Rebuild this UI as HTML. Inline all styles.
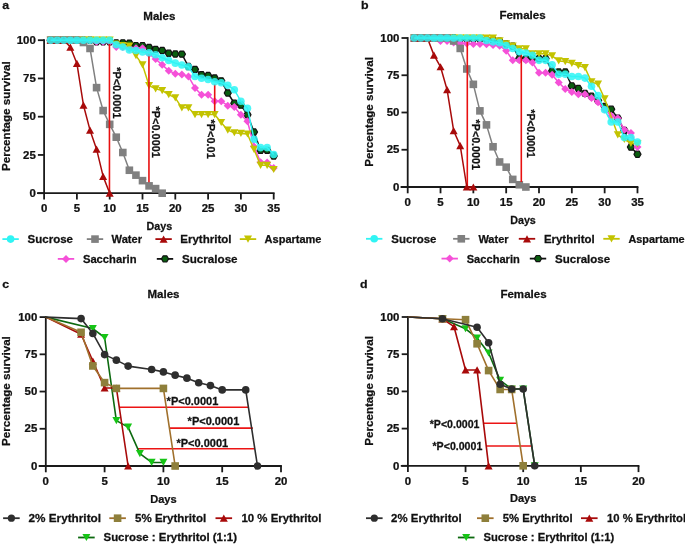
<!DOCTYPE html><html><head><meta charset="utf-8"><style>html,body{margin:0;padding:0;background:#fff;}svg{display:block;will-change:transform;}text{font-family:"Liberation Sans", sans-serif;stroke:#111;stroke-width:0.25px;}</style></head><body>
<svg width="685" height="544" viewBox="0 0 685 544">
<rect width="685" height="544" fill="#fff"/>
<g>
<text transform="translate(2.2,8.7) scale(1.05,1)" font-size="11.8" text-anchor="start" font-weight="bold" fill="#111">a</text>
<text transform="translate(159.3,19.8) scale(1.05,1)" font-size="11" text-anchor="middle" font-weight="bold" fill="#111">Males</text>
<text transform="translate(9.6,116.2) rotate(-90) scale(1.02,1)" font-size="11.4" text-anchor="middle" font-weight="bold" fill="#111">Percentage survival</text>
<line x1="44.1" y1="40.2" x2="44.1" y2="193.2" stroke="#1a1a1a" stroke-width="1.8" stroke-linecap="square"/>
<line x1="37.9" y1="193.2" x2="273.7" y2="193.2" stroke="#1a1a1a" stroke-width="1.8" stroke-linecap="square"/>
<line x1="37.9" y1="193.2" x2="44.1" y2="193.2" stroke="#1a1a1a" stroke-width="1.8"/>
<text transform="translate(35.8,196.9) scale(1.11,1)" font-size="10.3" text-anchor="end" font-weight="bold" fill="#111">0</text>
<line x1="37.9" y1="154.95" x2="44.1" y2="154.95" stroke="#1a1a1a" stroke-width="1.8"/>
<text transform="translate(35.8,158.65) scale(1.11,1)" font-size="10.3" text-anchor="end" font-weight="bold" fill="#111">25</text>
<line x1="37.9" y1="116.7" x2="44.1" y2="116.7" stroke="#1a1a1a" stroke-width="1.8"/>
<text transform="translate(35.8,120.4) scale(1.11,1)" font-size="10.3" text-anchor="end" font-weight="bold" fill="#111">50</text>
<line x1="37.9" y1="78.45" x2="44.1" y2="78.45" stroke="#1a1a1a" stroke-width="1.8"/>
<text transform="translate(35.8,82.15) scale(1.11,1)" font-size="10.3" text-anchor="end" font-weight="bold" fill="#111">75</text>
<line x1="37.9" y1="40.2" x2="44.1" y2="40.2" stroke="#1a1a1a" stroke-width="1.8"/>
<text transform="translate(35.8,43.9) scale(1.11,1)" font-size="10.3" text-anchor="end" font-weight="bold" fill="#111">100</text>
<line x1="44.1" y1="193.2" x2="44.1" y2="199.5" stroke="#1a1a1a" stroke-width="1.8"/>
<text transform="translate(44.1,212.2) scale(1.11,1)" font-size="10.3" text-anchor="middle" font-weight="bold" fill="#111">0</text>
<line x1="76.9" y1="193.2" x2="76.9" y2="199.5" stroke="#1a1a1a" stroke-width="1.8"/>
<text transform="translate(76.9,212.2) scale(1.11,1)" font-size="10.3" text-anchor="middle" font-weight="bold" fill="#111">5</text>
<line x1="109.7" y1="193.2" x2="109.7" y2="199.5" stroke="#1a1a1a" stroke-width="1.8"/>
<text transform="translate(109.7,212.2) scale(1.11,1)" font-size="10.3" text-anchor="middle" font-weight="bold" fill="#111">10</text>
<line x1="142.5" y1="193.2" x2="142.5" y2="199.5" stroke="#1a1a1a" stroke-width="1.8"/>
<text transform="translate(142.5,212.2) scale(1.11,1)" font-size="10.3" text-anchor="middle" font-weight="bold" fill="#111">15</text>
<line x1="175.3" y1="193.2" x2="175.3" y2="199.5" stroke="#1a1a1a" stroke-width="1.8"/>
<text transform="translate(175.3,212.2) scale(1.11,1)" font-size="10.3" text-anchor="middle" font-weight="bold" fill="#111">20</text>
<line x1="208.1" y1="193.2" x2="208.1" y2="199.5" stroke="#1a1a1a" stroke-width="1.8"/>
<text transform="translate(208.1,212.2) scale(1.11,1)" font-size="10.3" text-anchor="middle" font-weight="bold" fill="#111">25</text>
<line x1="240.9" y1="193.2" x2="240.9" y2="199.5" stroke="#1a1a1a" stroke-width="1.8"/>
<text transform="translate(240.9,212.2) scale(1.11,1)" font-size="10.3" text-anchor="middle" font-weight="bold" fill="#111">30</text>
<line x1="273.7" y1="193.2" x2="273.7" y2="199.5" stroke="#1a1a1a" stroke-width="1.8"/>
<text transform="translate(273.7,212.2) scale(1.11,1)" font-size="10.3" text-anchor="middle" font-weight="bold" fill="#111">35</text>
<text transform="translate(159.3,230.2) scale(0.96,1)" font-size="11.2" text-anchor="middle" font-weight="bold" fill="#111">Days</text>
<path d="M50.66,40.2 L57.22,40.2 L63.78,40.2 L70.34,40.2 L76.9,40.2 L83.46,40.2 L90.02,40.2 L96.58,41.73 L103.14,41.73 L109.7,41.73 L116.26,42.8 L122.82,42.8 L129.38,43.11 L135.94,45.55 L142.5,45.55 L149.06,47.39 L155.62,49.38 L162.18,50.45 L168.74,53.2 L175.3,53.97 L181.86,54.12 L188.42,66.52 L194.98,69.42 L201.54,74.62 L208.1,75.54 L214.66,77.99 L221.22,80.9 L227.78,92.98 L234.34,103.24 L240.9,105.07 L247.46,114.71 L254.02,132 L260.58,150.36 L267.14,150.36 L273.7,156.02" fill="none" stroke="#111111" stroke-width="1.5" stroke-linejoin="round"/><polygon points="47.11,40.2 48.89,37.13 52.44,37.13 54.21,40.2 52.44,43.27 48.89,43.27" fill="#0a5e10" stroke="#111111" stroke-width="1.2" stroke-linejoin="round"/><polygon points="53.67,40.2 55.45,37.13 58.99,37.13 60.77,40.2 58.99,43.27 55.45,43.27" fill="#0a5e10" stroke="#111111" stroke-width="1.2" stroke-linejoin="round"/><polygon points="60.23,40.2 62.01,37.13 65.56,37.13 67.33,40.2 65.56,43.27 62.01,43.27" fill="#0a5e10" stroke="#111111" stroke-width="1.2" stroke-linejoin="round"/><polygon points="66.79,40.2 68.56,37.13 72.12,37.13 73.89,40.2 72.12,43.27 68.56,43.27" fill="#0a5e10" stroke="#111111" stroke-width="1.2" stroke-linejoin="round"/><polygon points="73.35,40.2 75.12,37.13 78.68,37.13 80.45,40.2 78.68,43.27 75.12,43.27" fill="#0a5e10" stroke="#111111" stroke-width="1.2" stroke-linejoin="round"/><polygon points="79.91,40.2 81.69,37.13 85.24,37.13 87.01,40.2 85.24,43.27 81.69,43.27" fill="#0a5e10" stroke="#111111" stroke-width="1.2" stroke-linejoin="round"/><polygon points="86.47,40.2 88.24,37.13 91.8,37.13 93.57,40.2 91.8,43.27 88.24,43.27" fill="#0a5e10" stroke="#111111" stroke-width="1.2" stroke-linejoin="round"/><polygon points="93.03,41.73 94.8,38.66 98.36,38.66 100.13,41.73 98.36,44.8 94.8,44.8" fill="#0a5e10" stroke="#111111" stroke-width="1.2" stroke-linejoin="round"/><polygon points="99.59,41.73 101.36,38.66 104.92,38.66 106.69,41.73 104.92,44.8 101.36,44.8" fill="#0a5e10" stroke="#111111" stroke-width="1.2" stroke-linejoin="round"/><polygon points="106.15,41.73 107.92,38.66 111.47,38.66 113.25,41.73 111.47,44.8 107.92,44.8" fill="#0a5e10" stroke="#111111" stroke-width="1.2" stroke-linejoin="round"/><polygon points="112.71,42.8 114.48,39.73 118.03,39.73 119.81,42.8 118.03,45.88 114.48,45.88" fill="#0a5e10" stroke="#111111" stroke-width="1.2" stroke-linejoin="round"/><polygon points="119.27,42.8 121.04,39.73 124.59,39.73 126.37,42.8 124.59,45.88 121.04,45.88" fill="#0a5e10" stroke="#111111" stroke-width="1.2" stroke-linejoin="round"/><polygon points="125.83,43.11 127.6,40.03 131.16,40.03 132.93,43.11 131.16,46.18 127.6,46.18" fill="#0a5e10" stroke="#111111" stroke-width="1.2" stroke-linejoin="round"/><polygon points="132.39,45.55 134.16,42.48 137.72,42.48 139.49,45.55 137.72,48.63 134.16,48.63" fill="#0a5e10" stroke="#111111" stroke-width="1.2" stroke-linejoin="round"/><polygon points="138.95,45.55 140.72,42.48 144.28,42.48 146.05,45.55 144.28,48.63 140.72,48.63" fill="#0a5e10" stroke="#111111" stroke-width="1.2" stroke-linejoin="round"/><polygon points="145.51,47.39 147.28,44.32 150.84,44.32 152.61,47.39 150.84,50.47 147.28,50.47" fill="#0a5e10" stroke="#111111" stroke-width="1.2" stroke-linejoin="round"/><polygon points="152.07,49.38 153.84,46.31 157.4,46.31 159.17,49.38 157.4,52.45 153.84,52.45" fill="#0a5e10" stroke="#111111" stroke-width="1.2" stroke-linejoin="round"/><polygon points="158.63,50.45 160.41,47.38 163.96,47.38 165.73,50.45 163.96,53.53 160.41,53.53" fill="#0a5e10" stroke="#111111" stroke-width="1.2" stroke-linejoin="round"/><polygon points="165.19,53.2 166.96,50.13 170.51,50.13 172.29,53.2 170.51,56.28 166.96,56.28" fill="#0a5e10" stroke="#111111" stroke-width="1.2" stroke-linejoin="round"/><polygon points="171.75,53.97 173.52,50.9 177.07,50.9 178.85,53.97 177.07,57.04 173.52,57.04" fill="#0a5e10" stroke="#111111" stroke-width="1.2" stroke-linejoin="round"/><polygon points="178.31,54.12 180.08,51.05 183.63,51.05 185.41,54.12 183.63,57.2 180.08,57.2" fill="#0a5e10" stroke="#111111" stroke-width="1.2" stroke-linejoin="round"/><polygon points="184.87,66.52 186.64,63.44 190.19,63.44 191.97,66.52 190.19,69.59 186.64,69.59" fill="#0a5e10" stroke="#111111" stroke-width="1.2" stroke-linejoin="round"/><polygon points="191.43,69.42 193.2,66.35 196.75,66.35 198.53,69.42 196.75,72.5 193.2,72.5" fill="#0a5e10" stroke="#111111" stroke-width="1.2" stroke-linejoin="round"/><polygon points="197.99,74.62 199.76,71.55 203.31,71.55 205.09,74.62 203.31,77.7 199.76,77.7" fill="#0a5e10" stroke="#111111" stroke-width="1.2" stroke-linejoin="round"/><polygon points="204.55,75.54 206.32,72.47 209.88,72.47 211.65,75.54 209.88,78.62 206.32,78.62" fill="#0a5e10" stroke="#111111" stroke-width="1.2" stroke-linejoin="round"/><polygon points="211.11,77.99 212.88,74.92 216.44,74.92 218.21,77.99 216.44,81.07 212.88,81.07" fill="#0a5e10" stroke="#111111" stroke-width="1.2" stroke-linejoin="round"/><polygon points="217.67,80.9 219.44,77.82 222.99,77.82 224.77,80.9 222.99,83.97 219.44,83.97" fill="#0a5e10" stroke="#111111" stroke-width="1.2" stroke-linejoin="round"/><polygon points="224.23,92.98 226,89.91 229.55,89.91 231.33,92.98 229.55,96.06 226,96.06" fill="#0a5e10" stroke="#111111" stroke-width="1.2" stroke-linejoin="round"/><polygon points="230.79,103.24 232.56,100.16 236.11,100.16 237.89,103.24 236.11,106.31 232.56,106.31" fill="#0a5e10" stroke="#111111" stroke-width="1.2" stroke-linejoin="round"/><polygon points="237.35,105.07 239.12,102 242.67,102 244.45,105.07 242.67,108.15 239.12,108.15" fill="#0a5e10" stroke="#111111" stroke-width="1.2" stroke-linejoin="round"/><polygon points="243.91,114.71 245.68,111.64 249.23,111.64 251.01,114.71 249.23,117.79 245.68,117.79" fill="#0a5e10" stroke="#111111" stroke-width="1.2" stroke-linejoin="round"/><polygon points="250.47,132 252.24,128.93 255.79,128.93 257.57,132 255.79,135.07 252.24,135.07" fill="#0a5e10" stroke="#111111" stroke-width="1.2" stroke-linejoin="round"/><polygon points="257.03,150.36 258.81,147.29 262.35,147.29 264.13,150.36 262.35,153.43 258.81,153.43" fill="#0a5e10" stroke="#111111" stroke-width="1.2" stroke-linejoin="round"/><polygon points="263.59,150.36 265.37,147.29 268.91,147.29 270.69,150.36 268.91,153.43 265.37,153.43" fill="#0a5e10" stroke="#111111" stroke-width="1.2" stroke-linejoin="round"/><polygon points="270.15,156.02 271.93,152.95 275.47,152.95 277.25,156.02 275.47,159.1 271.93,159.1" fill="#0a5e10" stroke="#111111" stroke-width="1.2" stroke-linejoin="round"/>
<path d="M50.66,40.2 L57.22,40.2 L63.78,40.2 L70.34,40.2 L76.9,40.2 L83.46,40.2 L90.02,40.2 L96.58,41.73 L103.14,41.73 L109.7,41.73 L116.26,47.08 L122.82,47.08 L129.38,48.61 L135.94,48.16 L142.5,48.16 L149.06,53.97 L155.62,59.02 L162.18,64.83 L168.74,70.65 L175.3,73.86 L181.86,74.62 L188.42,76.46 L194.98,87.94 L201.54,94.67 L208.1,94.67 L214.66,101.25 L221.22,101.25 L227.78,105.68 L234.34,107.06 L240.9,114.71 L247.46,121.29 L254.02,146.38 L260.58,162.29 L267.14,162.6 L273.7,167.95" fill="none" stroke="#f550d8" stroke-width="1.5" stroke-linejoin="round"/><polygon points="50.66,36.2 54.66,40.2 50.66,44.2 46.66,40.2" fill="#f550d8"/><polygon points="57.22,36.2 61.22,40.2 57.22,44.2 53.22,40.2" fill="#f550d8"/><polygon points="63.78,36.2 67.78,40.2 63.78,44.2 59.78,40.2" fill="#f550d8"/><polygon points="70.34,36.2 74.34,40.2 70.34,44.2 66.34,40.2" fill="#f550d8"/><polygon points="76.9,36.2 80.9,40.2 76.9,44.2 72.9,40.2" fill="#f550d8"/><polygon points="83.46,36.2 87.46,40.2 83.46,44.2 79.46,40.2" fill="#f550d8"/><polygon points="90.02,36.2 94.02,40.2 90.02,44.2 86.02,40.2" fill="#f550d8"/><polygon points="96.58,37.73 100.58,41.73 96.58,45.73 92.58,41.73" fill="#f550d8"/><polygon points="103.14,37.73 107.14,41.73 103.14,45.73 99.14,41.73" fill="#f550d8"/><polygon points="109.7,37.73 113.7,41.73 109.7,45.73 105.7,41.73" fill="#f550d8"/><polygon points="116.26,43.08 120.26,47.08 116.26,51.08 112.26,47.08" fill="#f550d8"/><polygon points="122.82,43.08 126.82,47.08 122.82,51.08 118.82,47.08" fill="#f550d8"/><polygon points="129.38,44.61 133.38,48.61 129.38,52.61 125.38,48.61" fill="#f550d8"/><polygon points="135.94,44.16 139.94,48.16 135.94,52.16 131.94,48.16" fill="#f550d8"/><polygon points="142.5,44.16 146.5,48.16 142.5,52.16 138.5,48.16" fill="#f550d8"/><polygon points="149.06,49.97 153.06,53.97 149.06,57.97 145.06,53.97" fill="#f550d8"/><polygon points="155.62,55.02 159.62,59.02 155.62,63.02 151.62,59.02" fill="#f550d8"/><polygon points="162.18,60.83 166.18,64.83 162.18,68.83 158.18,64.83" fill="#f550d8"/><polygon points="168.74,66.65 172.74,70.65 168.74,74.65 164.74,70.65" fill="#f550d8"/><polygon points="175.3,69.86 179.3,73.86 175.3,77.86 171.3,73.86" fill="#f550d8"/><polygon points="181.86,70.62 185.86,74.62 181.86,78.62 177.86,74.62" fill="#f550d8"/><polygon points="188.42,72.46 192.42,76.46 188.42,80.46 184.42,76.46" fill="#f550d8"/><polygon points="194.98,83.94 198.98,87.94 194.98,91.94 190.98,87.94" fill="#f550d8"/><polygon points="201.54,90.67 205.54,94.67 201.54,98.67 197.54,94.67" fill="#f550d8"/><polygon points="208.1,90.67 212.1,94.67 208.1,98.67 204.1,94.67" fill="#f550d8"/><polygon points="214.66,97.25 218.66,101.25 214.66,105.25 210.66,101.25" fill="#f550d8"/><polygon points="221.22,97.25 225.22,101.25 221.22,105.25 217.22,101.25" fill="#f550d8"/><polygon points="227.78,101.68 231.78,105.68 227.78,109.68 223.78,105.68" fill="#f550d8"/><polygon points="234.34,103.06 238.34,107.06 234.34,111.06 230.34,107.06" fill="#f550d8"/><polygon points="240.9,110.71 244.9,114.71 240.9,118.71 236.9,114.71" fill="#f550d8"/><polygon points="247.46,117.29 251.46,121.29 247.46,125.29 243.46,121.29" fill="#f550d8"/><polygon points="254.02,142.38 258.02,146.38 254.02,150.38 250.02,146.38" fill="#f550d8"/><polygon points="260.58,158.29 264.58,162.29 260.58,166.29 256.58,162.29" fill="#f550d8"/><polygon points="267.14,158.6 271.14,162.6 267.14,166.6 263.14,162.6" fill="#f550d8"/><polygon points="273.7,163.95 277.7,167.95 273.7,171.95 269.7,167.95" fill="#f550d8"/>
<path d="M50.66,40.2 L57.22,40.2 L63.78,40.2 L70.34,40.2 L76.9,40.2 L83.46,40.2 L90.02,40.2 L96.58,40.2 L103.14,40.2 L109.7,40.2 L116.26,44.02 L122.82,45.55 L129.38,46.01 L135.94,55.65 L142.5,64.83 L149.06,85.64 L155.62,88.85 L162.18,90.54 L168.74,94.67 L175.3,97.88 L181.86,107.83 L188.42,107.83 L194.98,114.56 L201.54,114.56 L208.1,114.56 L214.66,114.56 L221.22,122.51 L227.78,130.16 L234.34,132.76 L240.9,133.38 L247.46,133.99 L254.02,149.44 L260.58,165.35 L267.14,165.35 L273.7,169.48" fill="none" stroke="#c3c300" stroke-width="1.5" stroke-linejoin="round"/><polygon points="46.66,36.6 54.66,36.6 50.66,43.8" fill="#c3c300"/><polygon points="53.22,36.6 61.22,36.6 57.22,43.8" fill="#c3c300"/><polygon points="59.78,36.6 67.78,36.6 63.78,43.8" fill="#c3c300"/><polygon points="66.34,36.6 74.34,36.6 70.34,43.8" fill="#c3c300"/><polygon points="72.9,36.6 80.9,36.6 76.9,43.8" fill="#c3c300"/><polygon points="79.46,36.6 87.46,36.6 83.46,43.8" fill="#c3c300"/><polygon points="86.02,36.6 94.02,36.6 90.02,43.8" fill="#c3c300"/><polygon points="92.58,36.6 100.58,36.6 96.58,43.8" fill="#c3c300"/><polygon points="99.14,36.6 107.14,36.6 103.14,43.8" fill="#c3c300"/><polygon points="105.7,36.6 113.7,36.6 109.7,43.8" fill="#c3c300"/><polygon points="112.26,40.42 120.26,40.42 116.26,47.62" fill="#c3c300"/><polygon points="118.82,41.95 126.82,41.95 122.82,49.15" fill="#c3c300"/><polygon points="125.38,42.41 133.38,42.41 129.38,49.61" fill="#c3c300"/><polygon points="131.94,52.05 139.94,52.05 135.94,59.25" fill="#c3c300"/><polygon points="138.5,61.23 146.5,61.23 142.5,68.43" fill="#c3c300"/><polygon points="145.06,82.04 153.06,82.04 149.06,89.24" fill="#c3c300"/><polygon points="151.62,85.25 159.62,85.25 155.62,92.45" fill="#c3c300"/><polygon points="158.18,86.94 166.18,86.94 162.18,94.14" fill="#c3c300"/><polygon points="164.74,91.07 172.74,91.07 168.74,98.27" fill="#c3c300"/><polygon points="171.3,94.28 179.3,94.28 175.3,101.48" fill="#c3c300"/><polygon points="177.86,104.23 185.86,104.23 181.86,111.43" fill="#c3c300"/><polygon points="184.42,104.23 192.42,104.23 188.42,111.43" fill="#c3c300"/><polygon points="190.98,110.96 198.98,110.96 194.98,118.16" fill="#c3c300"/><polygon points="197.54,110.96 205.54,110.96 201.54,118.16" fill="#c3c300"/><polygon points="204.1,110.96 212.1,110.96 208.1,118.16" fill="#c3c300"/><polygon points="210.66,110.96 218.66,110.96 214.66,118.16" fill="#c3c300"/><polygon points="217.22,118.91 225.22,118.91 221.22,126.11" fill="#c3c300"/><polygon points="223.78,126.56 231.78,126.56 227.78,133.76" fill="#c3c300"/><polygon points="230.34,129.16 238.34,129.16 234.34,136.36" fill="#c3c300"/><polygon points="236.9,129.78 244.9,129.78 240.9,136.98" fill="#c3c300"/><polygon points="243.46,130.39 251.46,130.39 247.46,137.59" fill="#c3c300"/><polygon points="250.02,145.84 258.02,145.84 254.02,153.04" fill="#c3c300"/><polygon points="256.58,161.75 264.58,161.75 260.58,168.95" fill="#c3c300"/><polygon points="263.14,161.75 271.14,161.75 267.14,168.95" fill="#c3c300"/><polygon points="269.7,165.88 277.7,165.88 273.7,173.08" fill="#c3c300"/>
<path d="M50.66,40.2 L57.22,40.2 L63.78,40.2 L70.34,40.2 L76.9,40.2 L83.46,42.49 L90.02,48.46 L96.58,87.63 L103.14,110.58 L109.7,124.35 L116.26,137.2 L122.82,152.5 L129.38,170.25 L135.94,175.15 L142.5,180.65 L149.06,185.86 L155.62,188.61 L162.18,193.2" fill="none" stroke="#808080" stroke-width="1.5" stroke-linejoin="round"/><rect x="46.86" y="36.4" width="7.6" height="7.6" fill="#808080"/><rect x="53.42" y="36.4" width="7.6" height="7.6" fill="#808080"/><rect x="59.98" y="36.4" width="7.6" height="7.6" fill="#808080"/><rect x="66.54" y="36.4" width="7.6" height="7.6" fill="#808080"/><rect x="73.1" y="36.4" width="7.6" height="7.6" fill="#808080"/><rect x="79.66" y="38.69" width="7.6" height="7.6" fill="#808080"/><rect x="86.22" y="44.66" width="7.6" height="7.6" fill="#808080"/><rect x="92.78" y="83.83" width="7.6" height="7.6" fill="#808080"/><rect x="99.34" y="106.78" width="7.6" height="7.6" fill="#808080"/><rect x="105.9" y="120.55" width="7.6" height="7.6" fill="#808080"/><rect x="112.46" y="133.4" width="7.6" height="7.6" fill="#808080"/><rect x="119.02" y="148.7" width="7.6" height="7.6" fill="#808080"/><rect x="125.58" y="166.45" width="7.6" height="7.6" fill="#808080"/><rect x="132.14" y="171.35" width="7.6" height="7.6" fill="#808080"/><rect x="138.7" y="176.85" width="7.6" height="7.6" fill="#808080"/><rect x="145.26" y="182.06" width="7.6" height="7.6" fill="#808080"/><rect x="151.82" y="184.81" width="7.6" height="7.6" fill="#808080"/><rect x="158.38" y="189.4" width="7.6" height="7.6" fill="#808080"/>
<line x1="109.45" y1="42" x2="109.45" y2="191" stroke="#e81010" stroke-width="1.6"/>
<line x1="148.95" y1="54" x2="148.95" y2="182.2" stroke="#e81010" stroke-width="1.6"/>
<line x1="214.7" y1="84" x2="214.7" y2="111.2" stroke="#e81010" stroke-width="1.6"/>
<path d="M50.66,40.2 L57.22,40.2 L63.78,40.2 L70.34,47.08 L76.9,63.46 L83.46,105.22 L90.02,130.16 L96.58,149.14 L103.14,176.37 L109.7,193.2" fill="none" stroke="#a80a0a" stroke-width="1.5" stroke-linejoin="round"/><polygon points="50.66,36.6 54.66,43.8 46.66,43.8" fill="#a80a0a"/><polygon points="57.22,36.6 61.22,43.8 53.22,43.8" fill="#a80a0a"/><polygon points="63.78,36.6 67.78,43.8 59.78,43.8" fill="#a80a0a"/><polygon points="70.34,43.48 74.34,50.68 66.34,50.68" fill="#a80a0a"/><polygon points="76.9,59.86 80.9,67.06 72.9,67.06" fill="#a80a0a"/><polygon points="83.46,101.62 87.46,108.82 79.46,108.82" fill="#a80a0a"/><polygon points="90.02,126.56 94.02,133.76 86.02,133.76" fill="#a80a0a"/><polygon points="96.58,145.54 100.58,152.74 92.58,152.74" fill="#a80a0a"/><polygon points="103.14,172.77 107.14,179.97 99.14,179.97" fill="#a80a0a"/><polygon points="109.7,189.6 113.7,196.8 105.7,196.8" fill="#a80a0a"/>
<path d="M50.66,40.2 L57.22,40.2 L63.78,40.2 L70.34,40.2 L76.9,40.2 L83.46,40.2 L90.02,40.2 L96.58,40.2 L103.14,40.2 L109.7,40.2 L116.26,44.79 L122.82,46.93 L129.38,49.99 L135.94,50.45 L142.5,51.98 L149.06,52.75 L155.62,54.73 L162.18,57.79 L168.74,60.55 L175.3,63.15 L181.86,64.99 L188.42,66.82 L194.98,76.46 L201.54,78.3 L208.1,79.52 L214.66,81.82 L221.22,82.73 L227.78,85.18 L234.34,89.77 L240.9,101.25 L247.46,108.28 L254.02,139.19 L260.58,147.61 L267.14,147.61 L273.7,154.49" fill="none" stroke="#30f4f4" stroke-width="1.5" stroke-linejoin="round"/><circle cx="50.66" cy="40.2" r="3.8" fill="#30f4f4" fill-opacity="0.86"/><circle cx="57.22" cy="40.2" r="3.8" fill="#30f4f4" fill-opacity="0.86"/><circle cx="63.78" cy="40.2" r="3.8" fill="#30f4f4" fill-opacity="0.86"/><circle cx="70.34" cy="40.2" r="3.8" fill="#30f4f4" fill-opacity="0.86"/><circle cx="76.9" cy="40.2" r="3.8" fill="#30f4f4" fill-opacity="0.86"/><circle cx="83.46" cy="40.2" r="3.8" fill="#30f4f4" fill-opacity="0.86"/><circle cx="90.02" cy="40.2" r="3.8" fill="#30f4f4" fill-opacity="0.86"/><circle cx="96.58" cy="40.2" r="3.8" fill="#30f4f4" fill-opacity="0.86"/><circle cx="103.14" cy="40.2" r="3.8" fill="#30f4f4" fill-opacity="0.86"/><circle cx="109.7" cy="40.2" r="3.8" fill="#30f4f4" fill-opacity="0.86"/><circle cx="116.26" cy="44.79" r="3.8" fill="#30f4f4" fill-opacity="0.86"/><circle cx="122.82" cy="46.93" r="3.8" fill="#30f4f4" fill-opacity="0.86"/><circle cx="129.38" cy="49.99" r="3.8" fill="#30f4f4" fill-opacity="0.86"/><circle cx="135.94" cy="50.45" r="3.8" fill="#30f4f4" fill-opacity="0.86"/><circle cx="142.5" cy="51.98" r="3.8" fill="#30f4f4" fill-opacity="0.86"/><circle cx="149.06" cy="52.75" r="3.8" fill="#30f4f4" fill-opacity="0.86"/><circle cx="155.62" cy="54.73" r="3.8" fill="#30f4f4" fill-opacity="0.86"/><circle cx="162.18" cy="57.79" r="3.8" fill="#30f4f4" fill-opacity="0.86"/><circle cx="168.74" cy="60.55" r="3.8" fill="#30f4f4" fill-opacity="0.86"/><circle cx="175.3" cy="63.15" r="3.8" fill="#30f4f4" fill-opacity="0.86"/><circle cx="181.86" cy="64.99" r="3.8" fill="#30f4f4" fill-opacity="0.86"/><circle cx="188.42" cy="66.82" r="3.8" fill="#30f4f4" fill-opacity="0.86"/><circle cx="194.98" cy="76.46" r="3.8" fill="#30f4f4" fill-opacity="0.86"/><circle cx="201.54" cy="78.3" r="3.8" fill="#30f4f4" fill-opacity="0.86"/><circle cx="208.1" cy="79.52" r="3.8" fill="#30f4f4" fill-opacity="0.86"/><circle cx="214.66" cy="81.82" r="3.8" fill="#30f4f4" fill-opacity="0.86"/><circle cx="221.22" cy="82.73" r="3.8" fill="#30f4f4" fill-opacity="0.86"/><circle cx="227.78" cy="85.18" r="3.8" fill="#30f4f4" fill-opacity="0.86"/><circle cx="234.34" cy="89.77" r="3.8" fill="#30f4f4" fill-opacity="0.86"/><circle cx="240.9" cy="101.25" r="3.8" fill="#30f4f4" fill-opacity="0.86"/><circle cx="247.46" cy="108.28" r="3.8" fill="#30f4f4" fill-opacity="0.86"/><circle cx="254.02" cy="139.19" r="3.8" fill="#30f4f4" fill-opacity="0.86"/><circle cx="260.58" cy="147.61" r="3.8" fill="#30f4f4" fill-opacity="0.86"/><circle cx="267.14" cy="147.61" r="3.8" fill="#30f4f4" fill-opacity="0.86"/><circle cx="273.7" cy="154.49" r="3.8" fill="#30f4f4" fill-opacity="0.86"/>
<text transform="translate(112.6,67.2) rotate(90) scale(1.04,1)" font-size="10.5" text-anchor="start" font-weight="bold" fill="#111">*P&lt;0.0001</text>
<text transform="translate(151.7,106.6) rotate(90) scale(1.04,1)" font-size="10.5" text-anchor="start" font-weight="bold" fill="#111">*P&lt;0.0001</text>
<text transform="translate(207.4,119.6) rotate(90) scale(1.04,1)" font-size="10.5" text-anchor="start" font-weight="bold" fill="#111">*P&lt;0.01</text>
<line x1="2.4" y1="239.1" x2="18.8" y2="239.1" stroke="#30f4f4" stroke-width="1.8"/>
<circle cx="10.6" cy="239.1" r="3.8" fill="#30f4f4"/>
<text transform="translate(27.5,243) scale(1.05,1)" font-size="11" text-anchor="start" font-weight="bold" fill="#111">Sucrose</text>
<line x1="86.8" y1="239.1" x2="103.2" y2="239.1" stroke="#808080" stroke-width="1.8"/>
<rect x="91.2" y="235.3" width="7.6" height="7.6" fill="#808080"/>
<text transform="translate(111.6,243) scale(1.01,1)" font-size="11" text-anchor="start" font-weight="bold" fill="#111">Water</text>
<line x1="155.4" y1="239.1" x2="171.8" y2="239.1" stroke="#a80a0a" stroke-width="1.8"/>
<polygon points="163.6,235.5 167.6,242.7 159.6,242.7" fill="#a80a0a"/>
<text transform="translate(180.2,243) scale(1.05,1)" font-size="11" text-anchor="start" font-weight="bold" fill="#111">Erythritol</text>
<line x1="239.8" y1="239.1" x2="256.2" y2="239.1" stroke="#c3c300" stroke-width="1.8"/>
<polygon points="244,235.5 252,235.5 248,242.7" fill="#c3c300"/>
<text transform="translate(264.6,243) scale(1,1)" font-size="11" text-anchor="start" font-weight="bold" fill="#111">Aspartame</text>
<line x1="57.8" y1="258.9" x2="74.2" y2="258.9" stroke="#f550d8" stroke-width="1.8"/>
<polygon points="66,254.9 70,258.9 66,262.9 62,258.9" fill="#f550d8"/>
<text transform="translate(82.9,262.8) scale(1.02,1)" font-size="11" text-anchor="start" font-weight="bold" fill="#111">Saccharin</text>
<line x1="156.8" y1="258.9" x2="173.2" y2="258.9" stroke="#111111" stroke-width="1.8"/>
<polygon points="161.45,258.9 163.22,255.83 166.78,255.83 168.55,258.9 166.78,261.97 163.22,261.97" fill="#0a5e10" stroke="#111111" stroke-width="1.15" stroke-linejoin="round"/>
<text transform="translate(181.9,262.8) scale(1.06,1)" font-size="11" text-anchor="start" font-weight="bold" fill="#111">Sucralose</text>
</g>
<g>
<text transform="translate(361,8.7) scale(1.05,1)" font-size="11.8" text-anchor="start" font-weight="bold" fill="#111">b</text>
<text transform="translate(522.5,18.5) scale(1.05,1)" font-size="11" text-anchor="middle" font-weight="bold" fill="#111">Females</text>
<text transform="translate(373.2,112) rotate(-90) scale(1.02,1)" font-size="11.4" text-anchor="middle" font-weight="bold" fill="#111">Percentage survival</text>
<line x1="407.7" y1="38" x2="407.7" y2="187" stroke="#1a1a1a" stroke-width="1.8" stroke-linecap="square"/>
<line x1="401.5" y1="187" x2="637.48" y2="187" stroke="#1a1a1a" stroke-width="1.8" stroke-linecap="square"/>
<line x1="401.5" y1="187" x2="407.7" y2="187" stroke="#1a1a1a" stroke-width="1.8"/>
<text transform="translate(399.4,190.7) scale(1.11,1)" font-size="10.3" text-anchor="end" font-weight="bold" fill="#111">0</text>
<line x1="401.5" y1="149.75" x2="407.7" y2="149.75" stroke="#1a1a1a" stroke-width="1.8"/>
<text transform="translate(399.4,153.45) scale(1.11,1)" font-size="10.3" text-anchor="end" font-weight="bold" fill="#111">25</text>
<line x1="401.5" y1="112.5" x2="407.7" y2="112.5" stroke="#1a1a1a" stroke-width="1.8"/>
<text transform="translate(399.4,116.2) scale(1.11,1)" font-size="10.3" text-anchor="end" font-weight="bold" fill="#111">50</text>
<line x1="401.5" y1="75.25" x2="407.7" y2="75.25" stroke="#1a1a1a" stroke-width="1.8"/>
<text transform="translate(399.4,78.95) scale(1.11,1)" font-size="10.3" text-anchor="end" font-weight="bold" fill="#111">75</text>
<line x1="401.5" y1="38" x2="407.7" y2="38" stroke="#1a1a1a" stroke-width="1.8"/>
<text transform="translate(399.4,41.7) scale(1.11,1)" font-size="10.3" text-anchor="end" font-weight="bold" fill="#111">100</text>
<line x1="407.7" y1="187" x2="407.7" y2="193.3" stroke="#1a1a1a" stroke-width="1.8"/>
<text transform="translate(407.7,206) scale(1.11,1)" font-size="10.3" text-anchor="middle" font-weight="bold" fill="#111">0</text>
<line x1="440.52" y1="187" x2="440.52" y2="193.3" stroke="#1a1a1a" stroke-width="1.8"/>
<text transform="translate(440.52,206) scale(1.11,1)" font-size="10.3" text-anchor="middle" font-weight="bold" fill="#111">5</text>
<line x1="473.35" y1="187" x2="473.35" y2="193.3" stroke="#1a1a1a" stroke-width="1.8"/>
<text transform="translate(473.35,206) scale(1.11,1)" font-size="10.3" text-anchor="middle" font-weight="bold" fill="#111">10</text>
<line x1="506.18" y1="187" x2="506.18" y2="193.3" stroke="#1a1a1a" stroke-width="1.8"/>
<text transform="translate(506.18,206) scale(1.11,1)" font-size="10.3" text-anchor="middle" font-weight="bold" fill="#111">15</text>
<line x1="539" y1="187" x2="539" y2="193.3" stroke="#1a1a1a" stroke-width="1.8"/>
<text transform="translate(539,206) scale(1.11,1)" font-size="10.3" text-anchor="middle" font-weight="bold" fill="#111">20</text>
<line x1="571.83" y1="187" x2="571.83" y2="193.3" stroke="#1a1a1a" stroke-width="1.8"/>
<text transform="translate(571.83,206) scale(1.11,1)" font-size="10.3" text-anchor="middle" font-weight="bold" fill="#111">25</text>
<line x1="604.65" y1="187" x2="604.65" y2="193.3" stroke="#1a1a1a" stroke-width="1.8"/>
<text transform="translate(604.65,206) scale(1.11,1)" font-size="10.3" text-anchor="middle" font-weight="bold" fill="#111">30</text>
<line x1="637.48" y1="187" x2="637.48" y2="193.3" stroke="#1a1a1a" stroke-width="1.8"/>
<text transform="translate(637.48,206) scale(1.11,1)" font-size="10.3" text-anchor="middle" font-weight="bold" fill="#111">35</text>
<text transform="translate(522.99,223.6) scale(0.96,1)" font-size="11.2" text-anchor="middle" font-weight="bold" fill="#111">Days</text>
<path d="M414.26,38 L420.83,38 L427.39,38 L433.96,38 L440.52,38 L447.09,38 L453.65,38 L460.22,39.04 L466.78,39.04 L473.35,39.04 L479.91,39.04 L486.48,39.49 L493.04,40.24 L499.61,41.28 L506.18,43.96 L512.74,46.19 L519.3,58.56 L525.87,58.56 L532.43,58.56 L539,58.56 L545.57,58.56 L552.13,70.93 L558.69,71.97 L565.26,71.97 L571.83,85.83 L578.39,88.51 L584.96,93.43 L591.52,96.26 L598.09,100.58 L604.65,106.54 L611.22,109.22 L617.78,118.16 L624.35,130.38 L630.91,147.07 L637.48,154.22" fill="none" stroke="#111111" stroke-width="1.5" stroke-linejoin="round"/><polygon points="410.71,38 412.49,34.93 416.04,34.93 417.81,38 416.04,41.07 412.49,41.07" fill="#0a5e10" stroke="#111111" stroke-width="1.2" stroke-linejoin="round"/><polygon points="417.28,38 419.06,34.93 422.6,34.93 424.38,38 422.6,41.07 419.06,41.07" fill="#0a5e10" stroke="#111111" stroke-width="1.2" stroke-linejoin="round"/><polygon points="423.84,38 425.62,34.93 429.17,34.93 430.94,38 429.17,41.07 425.62,41.07" fill="#0a5e10" stroke="#111111" stroke-width="1.2" stroke-linejoin="round"/><polygon points="430.41,38 432.19,34.93 435.73,34.93 437.51,38 435.73,41.07 432.19,41.07" fill="#0a5e10" stroke="#111111" stroke-width="1.2" stroke-linejoin="round"/><polygon points="436.97,38 438.75,34.93 442.3,34.93 444.07,38 442.3,41.07 438.75,41.07" fill="#0a5e10" stroke="#111111" stroke-width="1.2" stroke-linejoin="round"/><polygon points="443.54,38 445.31,34.93 448.86,34.93 450.64,38 448.86,41.07 445.31,41.07" fill="#0a5e10" stroke="#111111" stroke-width="1.2" stroke-linejoin="round"/><polygon points="450.1,38 451.88,34.93 455.43,34.93 457.2,38 455.43,41.07 451.88,41.07" fill="#0a5e10" stroke="#111111" stroke-width="1.2" stroke-linejoin="round"/><polygon points="456.67,39.04 458.44,35.97 461.99,35.97 463.77,39.04 461.99,42.12 458.44,42.12" fill="#0a5e10" stroke="#111111" stroke-width="1.2" stroke-linejoin="round"/><polygon points="463.23,39.04 465.01,35.97 468.56,35.97 470.33,39.04 468.56,42.12 465.01,42.12" fill="#0a5e10" stroke="#111111" stroke-width="1.2" stroke-linejoin="round"/><polygon points="469.8,39.04 471.58,35.97 475.12,35.97 476.9,39.04 475.12,42.12 471.58,42.12" fill="#0a5e10" stroke="#111111" stroke-width="1.2" stroke-linejoin="round"/><polygon points="476.36,39.04 478.14,35.97 481.69,35.97 483.46,39.04 481.69,42.12 478.14,42.12" fill="#0a5e10" stroke="#111111" stroke-width="1.2" stroke-linejoin="round"/><polygon points="482.93,39.49 484.71,36.42 488.25,36.42 490.03,39.49 488.25,42.56 484.71,42.56" fill="#0a5e10" stroke="#111111" stroke-width="1.2" stroke-linejoin="round"/><polygon points="489.49,40.24 491.27,37.16 494.82,37.16 496.59,40.24 494.82,43.31 491.27,43.31" fill="#0a5e10" stroke="#111111" stroke-width="1.2" stroke-linejoin="round"/><polygon points="496.06,41.28 497.84,38.2 501.38,38.2 503.16,41.28 501.38,44.35 497.84,44.35" fill="#0a5e10" stroke="#111111" stroke-width="1.2" stroke-linejoin="round"/><polygon points="502.62,43.96 504.4,40.89 507.95,40.89 509.73,43.96 507.95,47.03 504.4,47.03" fill="#0a5e10" stroke="#111111" stroke-width="1.2" stroke-linejoin="round"/><polygon points="509.19,46.19 510.97,43.12 514.51,43.12 516.29,46.19 514.51,49.27 510.97,49.27" fill="#0a5e10" stroke="#111111" stroke-width="1.2" stroke-linejoin="round"/><polygon points="515.75,58.56 517.53,55.49 521.08,55.49 522.85,58.56 521.08,61.64 517.53,61.64" fill="#0a5e10" stroke="#111111" stroke-width="1.2" stroke-linejoin="round"/><polygon points="522.32,58.56 524.1,55.49 527.64,55.49 529.42,58.56 527.64,61.64 524.1,61.64" fill="#0a5e10" stroke="#111111" stroke-width="1.2" stroke-linejoin="round"/><polygon points="528.88,58.56 530.66,55.49 534.21,55.49 535.98,58.56 534.21,61.64 530.66,61.64" fill="#0a5e10" stroke="#111111" stroke-width="1.2" stroke-linejoin="round"/><polygon points="535.45,58.56 537.23,55.49 540.77,55.49 542.55,58.56 540.77,61.64 537.23,61.64" fill="#0a5e10" stroke="#111111" stroke-width="1.2" stroke-linejoin="round"/><polygon points="542.02,58.56 543.79,55.49 547.34,55.49 549.12,58.56 547.34,61.64 543.79,61.64" fill="#0a5e10" stroke="#111111" stroke-width="1.2" stroke-linejoin="round"/><polygon points="548.58,70.93 550.36,67.85 553.9,67.85 555.68,70.93 553.9,74 550.36,74" fill="#0a5e10" stroke="#111111" stroke-width="1.2" stroke-linejoin="round"/><polygon points="555.14,71.97 556.92,68.9 560.47,68.9 562.24,71.97 560.47,75.05 556.92,75.05" fill="#0a5e10" stroke="#111111" stroke-width="1.2" stroke-linejoin="round"/><polygon points="561.71,71.97 563.49,68.9 567.03,68.9 568.81,71.97 567.03,75.05 563.49,75.05" fill="#0a5e10" stroke="#111111" stroke-width="1.2" stroke-linejoin="round"/><polygon points="568.28,85.83 570.05,82.75 573.6,82.75 575.38,85.83 573.6,88.9 570.05,88.9" fill="#0a5e10" stroke="#111111" stroke-width="1.2" stroke-linejoin="round"/><polygon points="574.84,88.51 576.62,85.44 580.16,85.44 581.94,88.51 580.16,91.59 576.62,91.59" fill="#0a5e10" stroke="#111111" stroke-width="1.2" stroke-linejoin="round"/><polygon points="581.41,93.43 583.18,90.35 586.73,90.35 588.5,93.43 586.73,96.5 583.18,96.5" fill="#0a5e10" stroke="#111111" stroke-width="1.2" stroke-linejoin="round"/><polygon points="587.97,96.26 589.75,93.18 593.29,93.18 595.07,96.26 593.29,99.33 589.75,99.33" fill="#0a5e10" stroke="#111111" stroke-width="1.2" stroke-linejoin="round"/><polygon points="594.54,100.58 596.31,97.51 599.86,97.51 601.63,100.58 599.86,103.65 596.31,103.65" fill="#0a5e10" stroke="#111111" stroke-width="1.2" stroke-linejoin="round"/><polygon points="601.1,106.54 602.88,103.47 606.42,103.47 608.2,106.54 606.42,109.61 602.88,109.61" fill="#0a5e10" stroke="#111111" stroke-width="1.2" stroke-linejoin="round"/><polygon points="607.67,109.22 609.44,106.15 612.99,106.15 614.76,109.22 612.99,112.3 609.44,112.3" fill="#0a5e10" stroke="#111111" stroke-width="1.2" stroke-linejoin="round"/><polygon points="614.23,118.16 616,115.09 619.55,115.09 621.33,118.16 619.55,121.24 616,121.24" fill="#0a5e10" stroke="#111111" stroke-width="1.2" stroke-linejoin="round"/><polygon points="620.8,130.38 622.57,127.31 626.12,127.31 627.89,130.38 626.12,133.45 622.57,133.45" fill="#0a5e10" stroke="#111111" stroke-width="1.2" stroke-linejoin="round"/><polygon points="627.36,147.07 629.13,143.99 632.68,143.99 634.46,147.07 632.68,150.14 629.13,150.14" fill="#0a5e10" stroke="#111111" stroke-width="1.2" stroke-linejoin="round"/><polygon points="633.93,154.22 635.7,151.15 639.25,151.15 641.02,154.22 639.25,157.29 635.7,157.29" fill="#0a5e10" stroke="#111111" stroke-width="1.2" stroke-linejoin="round"/>
<path d="M414.26,38 L420.83,38 L427.39,38 L433.96,38 L440.52,40.98 L447.09,40.98 L453.65,42.47 L460.22,43.22 L466.78,43.51 L473.35,43.96 L479.91,43.96 L486.48,44.26 L493.04,45 L499.61,45.75 L506.18,50.66 L512.74,60.35 L519.3,60.35 L525.87,60.35 L532.43,62.58 L539,72.72 L545.57,72.72 L552.13,74.8 L558.69,82.55 L565.26,89.11 L571.83,91.94 L578.39,94.17 L584.96,94.17 L591.52,97.9 L598.09,102.37 L604.65,109.52 L611.22,115.63 L617.78,118.16 L624.35,129.63 L630.91,133.06 L637.48,147.07" fill="none" stroke="#f550d8" stroke-width="1.5" stroke-linejoin="round"/><polygon points="414.26,34 418.26,38 414.26,42 410.26,38" fill="#f550d8"/><polygon points="420.83,34 424.83,38 420.83,42 416.83,38" fill="#f550d8"/><polygon points="427.39,34 431.39,38 427.39,42 423.39,38" fill="#f550d8"/><polygon points="433.96,34 437.96,38 433.96,42 429.96,38" fill="#f550d8"/><polygon points="440.52,36.98 444.52,40.98 440.52,44.98 436.52,40.98" fill="#f550d8"/><polygon points="447.09,36.98 451.09,40.98 447.09,44.98 443.09,40.98" fill="#f550d8"/><polygon points="453.65,38.47 457.65,42.47 453.65,46.47 449.65,42.47" fill="#f550d8"/><polygon points="460.22,39.22 464.22,43.22 460.22,47.22 456.22,43.22" fill="#f550d8"/><polygon points="466.78,39.51 470.78,43.51 466.78,47.51 462.78,43.51" fill="#f550d8"/><polygon points="473.35,39.96 477.35,43.96 473.35,47.96 469.35,43.96" fill="#f550d8"/><polygon points="479.91,39.96 483.91,43.96 479.91,47.96 475.91,43.96" fill="#f550d8"/><polygon points="486.48,40.26 490.48,44.26 486.48,48.26 482.48,44.26" fill="#f550d8"/><polygon points="493.04,41 497.04,45 493.04,49 489.04,45" fill="#f550d8"/><polygon points="499.61,41.75 503.61,45.75 499.61,49.75 495.61,45.75" fill="#f550d8"/><polygon points="506.18,46.66 510.18,50.66 506.18,54.66 502.18,50.66" fill="#f550d8"/><polygon points="512.74,56.35 516.74,60.35 512.74,64.35 508.74,60.35" fill="#f550d8"/><polygon points="519.3,56.35 523.3,60.35 519.3,64.35 515.3,60.35" fill="#f550d8"/><polygon points="525.87,56.35 529.87,60.35 525.87,64.35 521.87,60.35" fill="#f550d8"/><polygon points="532.43,58.58 536.43,62.58 532.43,66.58 528.43,62.58" fill="#f550d8"/><polygon points="539,68.72 543,72.72 539,76.72 535,72.72" fill="#f550d8"/><polygon points="545.57,68.72 549.57,72.72 545.57,76.72 541.57,72.72" fill="#f550d8"/><polygon points="552.13,70.8 556.13,74.8 552.13,78.8 548.13,74.8" fill="#f550d8"/><polygon points="558.69,78.55 562.69,82.55 558.69,86.55 554.69,82.55" fill="#f550d8"/><polygon points="565.26,85.11 569.26,89.11 565.26,93.11 561.26,89.11" fill="#f550d8"/><polygon points="571.83,87.94 575.83,91.94 571.83,95.94 567.83,91.94" fill="#f550d8"/><polygon points="578.39,90.17 582.39,94.17 578.39,98.17 574.39,94.17" fill="#f550d8"/><polygon points="584.96,90.17 588.96,94.17 584.96,98.17 580.96,94.17" fill="#f550d8"/><polygon points="591.52,93.9 595.52,97.9 591.52,101.9 587.52,97.9" fill="#f550d8"/><polygon points="598.09,98.37 602.09,102.37 598.09,106.37 594.09,102.37" fill="#f550d8"/><polygon points="604.65,105.52 608.65,109.52 604.65,113.52 600.65,109.52" fill="#f550d8"/><polygon points="611.22,111.63 615.22,115.63 611.22,119.63 607.22,115.63" fill="#f550d8"/><polygon points="617.78,114.16 621.78,118.16 617.78,122.16 613.78,118.16" fill="#f550d8"/><polygon points="624.35,125.63 628.35,129.63 624.35,133.63 620.35,129.63" fill="#f550d8"/><polygon points="630.91,129.06 634.91,133.06 630.91,137.06 626.91,133.06" fill="#f550d8"/><polygon points="637.48,143.07 641.48,147.07 637.48,151.07 633.48,147.07" fill="#f550d8"/>
<path d="M414.26,38 L420.83,38 L427.39,38 L433.96,38 L440.52,38 L447.09,38 L453.65,38 L460.22,38 L466.78,38 L473.35,38 L479.91,38 L486.48,38 L493.04,38 L499.61,40.83 L506.18,43.96 L512.74,46.19 L519.3,48.73 L525.87,48.73 L532.43,53.79 L539,53.79 L545.57,53.79 L552.13,55.88 L558.69,60.95 L565.26,61.54 L571.83,63.33 L578.39,65.56 L584.96,67.65 L591.52,81.95 L598.09,84.19 L604.65,98.79 L617.78,134.85 L624.35,139.32 L630.91,143.34 L637.48,143.79" fill="none" stroke="#c3c300" stroke-width="1.5" stroke-linejoin="round"/><polygon points="410.26,34.4 418.26,34.4 414.26,41.6" fill="#c3c300"/><polygon points="416.83,34.4 424.83,34.4 420.83,41.6" fill="#c3c300"/><polygon points="423.39,34.4 431.39,34.4 427.39,41.6" fill="#c3c300"/><polygon points="429.96,34.4 437.96,34.4 433.96,41.6" fill="#c3c300"/><polygon points="436.52,34.4 444.52,34.4 440.52,41.6" fill="#c3c300"/><polygon points="443.09,34.4 451.09,34.4 447.09,41.6" fill="#c3c300"/><polygon points="449.65,34.4 457.65,34.4 453.65,41.6" fill="#c3c300"/><polygon points="456.22,34.4 464.22,34.4 460.22,41.6" fill="#c3c300"/><polygon points="462.78,34.4 470.78,34.4 466.78,41.6" fill="#c3c300"/><polygon points="469.35,34.4 477.35,34.4 473.35,41.6" fill="#c3c300"/><polygon points="475.91,34.4 483.91,34.4 479.91,41.6" fill="#c3c300"/><polygon points="482.48,34.4 490.48,34.4 486.48,41.6" fill="#c3c300"/><polygon points="489.04,34.4 497.04,34.4 493.04,41.6" fill="#c3c300"/><polygon points="495.61,37.23 503.61,37.23 499.61,44.43" fill="#c3c300"/><polygon points="502.18,40.36 510.18,40.36 506.18,47.56" fill="#c3c300"/><polygon points="508.74,42.59 516.74,42.59 512.74,49.79" fill="#c3c300"/><polygon points="515.3,45.13 523.3,45.13 519.3,52.33" fill="#c3c300"/><polygon points="521.87,45.13 529.87,45.13 525.87,52.33" fill="#c3c300"/><polygon points="528.43,50.19 536.43,50.19 532.43,57.39" fill="#c3c300"/><polygon points="535,50.19 543,50.19 539,57.39" fill="#c3c300"/><polygon points="541.57,50.19 549.57,50.19 545.57,57.39" fill="#c3c300"/><polygon points="548.13,52.28 556.13,52.28 552.13,59.48" fill="#c3c300"/><polygon points="554.69,57.35 562.69,57.35 558.69,64.55" fill="#c3c300"/><polygon points="561.26,57.94 569.26,57.94 565.26,65.14" fill="#c3c300"/><polygon points="567.83,59.73 575.83,59.73 571.83,66.93" fill="#c3c300"/><polygon points="574.39,61.96 582.39,61.96 578.39,69.16" fill="#c3c300"/><polygon points="580.96,64.05 588.96,64.05 584.96,71.25" fill="#c3c300"/><polygon points="587.52,78.36 595.52,78.36 591.52,85.55" fill="#c3c300"/><polygon points="594.09,80.59 602.09,80.59 598.09,87.79" fill="#c3c300"/><polygon points="600.65,95.19 608.65,95.19 604.65,102.39" fill="#c3c300"/><polygon points="613.78,131.25 621.78,131.25 617.78,138.45" fill="#c3c300"/><polygon points="620.35,135.72 628.35,135.72 624.35,142.92" fill="#c3c300"/><polygon points="626.91,139.74 634.91,139.74 630.91,146.94" fill="#c3c300"/><polygon points="633.48,140.19 641.48,140.19 637.48,147.39" fill="#c3c300"/>
<path d="M414.26,38 L420.83,38 L427.39,38 L433.96,38 L440.52,38 L447.09,38 L453.65,40.98 L460.22,48.43 L466.78,68.99 L473.35,84.34 L479.91,110.86 L486.48,124.87 L493.04,146.77 L499.61,161.97 L506.18,167.18 L512.74,179.4 L519.3,184.76 L525.87,187" fill="none" stroke="#808080" stroke-width="1.5" stroke-linejoin="round"/><rect x="410.46" y="34.2" width="7.6" height="7.6" fill="#808080"/><rect x="417.03" y="34.2" width="7.6" height="7.6" fill="#808080"/><rect x="423.59" y="34.2" width="7.6" height="7.6" fill="#808080"/><rect x="430.16" y="34.2" width="7.6" height="7.6" fill="#808080"/><rect x="436.72" y="34.2" width="7.6" height="7.6" fill="#808080"/><rect x="443.29" y="34.2" width="7.6" height="7.6" fill="#808080"/><rect x="449.85" y="37.18" width="7.6" height="7.6" fill="#808080"/><rect x="456.42" y="44.63" width="7.6" height="7.6" fill="#808080"/><rect x="462.98" y="65.19" width="7.6" height="7.6" fill="#808080"/><rect x="469.55" y="80.54" width="7.6" height="7.6" fill="#808080"/><rect x="476.11" y="107.06" width="7.6" height="7.6" fill="#808080"/><rect x="482.68" y="121.07" width="7.6" height="7.6" fill="#808080"/><rect x="489.24" y="142.97" width="7.6" height="7.6" fill="#808080"/><rect x="495.81" y="158.17" width="7.6" height="7.6" fill="#808080"/><rect x="502.38" y="163.38" width="7.6" height="7.6" fill="#808080"/><rect x="508.94" y="175.6" width="7.6" height="7.6" fill="#808080"/><rect x="515.5" y="180.96" width="7.6" height="7.6" fill="#808080"/><rect x="522.07" y="183.2" width="7.6" height="7.6" fill="#808080"/>
<line x1="467.3" y1="40" x2="467.3" y2="186" stroke="#e81010" stroke-width="1.6"/>
<line x1="521.3" y1="53.3" x2="521.3" y2="182" stroke="#e81010" stroke-width="1.6"/>
<path d="M414.26,38 L420.83,38 L427.39,38 L433.96,55.13 L440.52,66.76 L447.09,89.7 L453.65,130.68 L460.22,145.58 L466.78,187 L473.35,187" fill="none" stroke="#a80a0a" stroke-width="1.5" stroke-linejoin="round"/><polygon points="414.26,34.4 418.26,41.6 410.26,41.6" fill="#a80a0a"/><polygon points="420.83,34.4 424.83,41.6 416.83,41.6" fill="#a80a0a"/><polygon points="427.39,34.4 431.39,41.6 423.39,41.6" fill="#a80a0a"/><polygon points="433.96,51.53 437.96,58.73 429.96,58.73" fill="#a80a0a"/><polygon points="440.52,63.16 444.52,70.36 436.52,70.36" fill="#a80a0a"/><polygon points="447.09,86.1 451.09,93.3 443.09,93.3" fill="#a80a0a"/><polygon points="453.65,127.08 457.65,134.28 449.65,134.28" fill="#a80a0a"/><polygon points="460.22,141.98 464.22,149.18 456.22,149.18" fill="#a80a0a"/><polygon points="466.78,183.4 470.78,190.6 462.78,190.6" fill="#a80a0a"/><polygon points="473.35,183.4 477.35,190.6 469.35,190.6" fill="#a80a0a"/>
<path d="M414.26,38 L420.83,38 L427.39,38 L433.96,38 L440.52,38 L447.09,38 L453.65,38 L460.22,38 L466.78,38 L473.35,38 L479.91,38 L486.48,40.53 L493.04,41.87 L499.61,42.77 L506.18,45.45 L512.74,48.43 L519.3,51.86 L525.87,53.05 L532.43,55.28 L539,60.35 L545.57,60.35 L552.13,64.82 L558.69,74.21 L565.26,74.21 L571.83,76.44 L578.39,76.44 L584.96,78.08 L591.52,86.28 L598.09,95.66 L604.65,109.82 L611.22,122.04 L617.78,122.04 L624.35,137.53 L630.91,137.53 L637.48,142" fill="none" stroke="#30f4f4" stroke-width="1.5" stroke-linejoin="round"/><circle cx="414.26" cy="38" r="3.8" fill="#30f4f4" fill-opacity="0.86"/><circle cx="420.83" cy="38" r="3.8" fill="#30f4f4" fill-opacity="0.86"/><circle cx="427.39" cy="38" r="3.8" fill="#30f4f4" fill-opacity="0.86"/><circle cx="433.96" cy="38" r="3.8" fill="#30f4f4" fill-opacity="0.86"/><circle cx="440.52" cy="38" r="3.8" fill="#30f4f4" fill-opacity="0.86"/><circle cx="447.09" cy="38" r="3.8" fill="#30f4f4" fill-opacity="0.86"/><circle cx="453.65" cy="38" r="3.8" fill="#30f4f4" fill-opacity="0.86"/><circle cx="460.22" cy="38" r="3.8" fill="#30f4f4" fill-opacity="0.86"/><circle cx="466.78" cy="38" r="3.8" fill="#30f4f4" fill-opacity="0.86"/><circle cx="473.35" cy="38" r="3.8" fill="#30f4f4" fill-opacity="0.86"/><circle cx="479.91" cy="38" r="3.8" fill="#30f4f4" fill-opacity="0.86"/><circle cx="486.48" cy="40.53" r="3.8" fill="#30f4f4" fill-opacity="0.86"/><circle cx="493.04" cy="41.87" r="3.8" fill="#30f4f4" fill-opacity="0.86"/><circle cx="499.61" cy="42.77" r="3.8" fill="#30f4f4" fill-opacity="0.86"/><circle cx="506.18" cy="45.45" r="3.8" fill="#30f4f4" fill-opacity="0.86"/><circle cx="512.74" cy="48.43" r="3.8" fill="#30f4f4" fill-opacity="0.86"/><circle cx="519.3" cy="51.86" r="3.8" fill="#30f4f4" fill-opacity="0.86"/><circle cx="525.87" cy="53.05" r="3.8" fill="#30f4f4" fill-opacity="0.86"/><circle cx="532.43" cy="55.28" r="3.8" fill="#30f4f4" fill-opacity="0.86"/><circle cx="539" cy="60.35" r="3.8" fill="#30f4f4" fill-opacity="0.86"/><circle cx="545.57" cy="60.35" r="3.8" fill="#30f4f4" fill-opacity="0.86"/><circle cx="552.13" cy="64.82" r="3.8" fill="#30f4f4" fill-opacity="0.86"/><circle cx="558.69" cy="74.21" r="3.8" fill="#30f4f4" fill-opacity="0.86"/><circle cx="565.26" cy="74.21" r="3.8" fill="#30f4f4" fill-opacity="0.86"/><circle cx="571.83" cy="76.44" r="3.8" fill="#30f4f4" fill-opacity="0.86"/><circle cx="578.39" cy="76.44" r="3.8" fill="#30f4f4" fill-opacity="0.86"/><circle cx="584.96" cy="78.08" r="3.8" fill="#30f4f4" fill-opacity="0.86"/><circle cx="591.52" cy="86.28" r="3.8" fill="#30f4f4" fill-opacity="0.86"/><circle cx="598.09" cy="95.66" r="3.8" fill="#30f4f4" fill-opacity="0.86"/><circle cx="604.65" cy="109.82" r="3.8" fill="#30f4f4" fill-opacity="0.86"/><circle cx="611.22" cy="122.04" r="3.8" fill="#30f4f4" fill-opacity="0.86"/><circle cx="617.78" cy="122.04" r="3.8" fill="#30f4f4" fill-opacity="0.86"/><circle cx="624.35" cy="137.53" r="3.8" fill="#30f4f4" fill-opacity="0.86"/><circle cx="630.91" cy="137.53" r="3.8" fill="#30f4f4" fill-opacity="0.86"/><circle cx="637.48" cy="142" r="3.8" fill="#30f4f4" fill-opacity="0.86"/>
<text transform="translate(471.8,119.6) rotate(90) scale(1.02,1)" font-size="10.5" text-anchor="start" font-weight="bold" fill="#111">*P&lt;0.0001</text>
<text transform="translate(527,109.5) rotate(90) scale(0.98,1)" font-size="10.5" text-anchor="start" font-weight="bold" fill="#111">*P&lt;0.0001</text>
<line x1="366" y1="238.8" x2="382.4" y2="238.8" stroke="#30f4f4" stroke-width="1.8"/>
<circle cx="374.2" cy="238.8" r="3.8" fill="#30f4f4"/>
<text transform="translate(391.3,242.7) scale(1.04,1)" font-size="11" text-anchor="start" font-weight="bold" fill="#111">Sucrose</text>
<line x1="453.1" y1="238.8" x2="469.5" y2="238.8" stroke="#808080" stroke-width="1.8"/>
<rect x="457.5" y="235" width="7.6" height="7.6" fill="#808080"/>
<text transform="translate(478.4,242.7) scale(1,1)" font-size="11" text-anchor="start" font-weight="bold" fill="#111">Water</text>
<line x1="518.8" y1="238.8" x2="535.2" y2="238.8" stroke="#a80a0a" stroke-width="1.8"/>
<polygon points="527,235.2 531,242.4 523,242.4" fill="#a80a0a"/>
<text transform="translate(543.9,242.7) scale(1.04,1)" font-size="11" text-anchor="start" font-weight="bold" fill="#111">Erythritol</text>
<line x1="603.3" y1="238.8" x2="619.7" y2="238.8" stroke="#c3c300" stroke-width="1.8"/>
<polygon points="607.5,235.2 615.5,235.2 611.5,242.4" fill="#c3c300"/>
<text transform="translate(628.4,242.7) scale(0.99,1)" font-size="11" text-anchor="start" font-weight="bold" fill="#111">Aspartame</text>
<line x1="441.5" y1="258.6" x2="457.9" y2="258.6" stroke="#f550d8" stroke-width="1.8"/>
<polygon points="449.7,254.6 453.7,258.6 449.7,262.6 445.7,258.6" fill="#f550d8"/>
<text transform="translate(466.7,262.5) scale(1.01,1)" font-size="11" text-anchor="start" font-weight="bold" fill="#111">Saccharin</text>
<line x1="529.8" y1="258.6" x2="546.2" y2="258.6" stroke="#111111" stroke-width="1.8"/>
<polygon points="534.45,258.6 536.23,255.53 539.77,255.53 541.55,258.6 539.77,261.67 536.23,261.67" fill="#0a5e10" stroke="#111111" stroke-width="1.15" stroke-linejoin="round"/>
<text transform="translate(555,262.5) scale(1.05,1)" font-size="11" text-anchor="start" font-weight="bold" fill="#111">Sucralose</text>
</g>
<g>
<text transform="translate(2.2,288.2) scale(1.05,1)" font-size="11.8" text-anchor="start" font-weight="bold" fill="#111">c</text>
<text transform="translate(163.5,297.7) scale(1.05,1)" font-size="11" text-anchor="middle" font-weight="bold" fill="#111">Males</text>
<text transform="translate(9.6,391.05) rotate(-90) scale(1.02,1)" font-size="11.4" text-anchor="middle" font-weight="bold" fill="#111">Percentage survival</text>
<line x1="45.8" y1="317.1" x2="45.8" y2="466" stroke="#1a1a1a" stroke-width="1.8" stroke-linecap="square"/>
<line x1="39.6" y1="466" x2="281" y2="466" stroke="#1a1a1a" stroke-width="1.8" stroke-linecap="square"/>
<line x1="39.6" y1="466" x2="45.8" y2="466" stroke="#1a1a1a" stroke-width="1.8"/>
<text transform="translate(37.3,469.7) scale(1.11,1)" font-size="10.3" text-anchor="end" font-weight="bold" fill="#111">0</text>
<line x1="39.6" y1="428.77" x2="45.8" y2="428.77" stroke="#1a1a1a" stroke-width="1.8"/>
<text transform="translate(37.3,432.47) scale(1.11,1)" font-size="10.3" text-anchor="end" font-weight="bold" fill="#111">25</text>
<line x1="39.6" y1="391.55" x2="45.8" y2="391.55" stroke="#1a1a1a" stroke-width="1.8"/>
<text transform="translate(37.3,395.25) scale(1.11,1)" font-size="10.3" text-anchor="end" font-weight="bold" fill="#111">50</text>
<line x1="39.6" y1="354.33" x2="45.8" y2="354.33" stroke="#1a1a1a" stroke-width="1.8"/>
<text transform="translate(37.3,358.03) scale(1.11,1)" font-size="10.3" text-anchor="end" font-weight="bold" fill="#111">75</text>
<line x1="39.6" y1="317.1" x2="45.8" y2="317.1" stroke="#1a1a1a" stroke-width="1.8"/>
<text transform="translate(37.3,320.8) scale(1.11,1)" font-size="10.3" text-anchor="end" font-weight="bold" fill="#111">100</text>
<line x1="45.8" y1="466" x2="45.8" y2="472.3" stroke="#1a1a1a" stroke-width="1.8"/>
<text transform="translate(45.8,484.7) scale(1.11,1)" font-size="10.3" text-anchor="middle" font-weight="bold" fill="#111">0</text>
<line x1="104.6" y1="466" x2="104.6" y2="472.3" stroke="#1a1a1a" stroke-width="1.8"/>
<text transform="translate(104.6,484.7) scale(1.11,1)" font-size="10.3" text-anchor="middle" font-weight="bold" fill="#111">5</text>
<line x1="163.4" y1="466" x2="163.4" y2="472.3" stroke="#1a1a1a" stroke-width="1.8"/>
<text transform="translate(163.4,484.7) scale(1.11,1)" font-size="10.3" text-anchor="middle" font-weight="bold" fill="#111">10</text>
<line x1="222.2" y1="466" x2="222.2" y2="472.3" stroke="#1a1a1a" stroke-width="1.8"/>
<text transform="translate(222.2,484.7) scale(1.11,1)" font-size="10.3" text-anchor="middle" font-weight="bold" fill="#111">15</text>
<line x1="281" y1="466" x2="281" y2="472.3" stroke="#1a1a1a" stroke-width="1.8"/>
<text transform="translate(281,484.7) scale(1.11,1)" font-size="10.3" text-anchor="middle" font-weight="bold" fill="#111">20</text>
<text transform="translate(163.4,502.5) scale(0.99,1)" font-size="11.2" text-anchor="middle" font-weight="bold" fill="#111">Days</text>
<line x1="119.6" y1="407.2" x2="249" y2="407.2" stroke="#ec1414" stroke-width="1.55"/>
<line x1="170" y1="428.1" x2="252.9" y2="428.1" stroke="#ec1414" stroke-width="1.55"/>
<line x1="137.8" y1="448.8" x2="254.9" y2="448.8" stroke="#ec1414" stroke-width="1.55"/>
<path d="M45.8,317.1 L92.84,328.57 L104.6,337.5 L116.36,420.59 L128.12,427.14 L139.88,453.64 L151.64,462.43 L163.4,462.43" fill="none" stroke="#0d6a10" stroke-width="1.6" stroke-linejoin="round"/><polygon points="88.84,324.97 96.84,324.97 92.84,332.17" fill="#16c416"/><polygon points="100.6,333.9 108.6,333.9 104.6,341.1" fill="#16c416"/><polygon points="112.36,416.99 120.36,416.99 116.36,424.19" fill="#16c416"/><polygon points="124.12,423.54 132.12,423.54 128.12,430.74" fill="#16c416"/><polygon points="135.88,450.04 143.88,450.04 139.88,457.24" fill="#16c416"/><polygon points="147.64,458.83 155.64,458.83 151.64,466.03" fill="#16c416"/><polygon points="159.4,458.83 167.4,458.83 163.4,466.03" fill="#16c416"/>
<path d="M45.8,317.1 L81.08,334.22 L92.84,361.03 L104.6,387.98 L116.36,387.98 L128.12,466" fill="none" stroke="#a80a0a" stroke-width="1.6" stroke-linejoin="round"/><polygon points="81.08,330.62 85.08,337.82 77.08,337.82" fill="#a80a0a"/><polygon points="92.84,357.43 96.84,364.63 88.84,364.63" fill="#a80a0a"/><polygon points="104.6,384.38 108.6,391.58 100.6,391.58" fill="#a80a0a"/><polygon points="116.36,384.38 120.36,391.58 112.36,391.58" fill="#a80a0a"/><polygon points="128.12,462.4 132.12,469.6 124.12,469.6" fill="#a80a0a"/>
<path d="M45.8,317.1 L81.08,332.29 L92.84,365.94 L104.6,382.62 L116.36,388.42 L163.4,388.42 L175.16,466" fill="none" stroke="#a0702c" stroke-width="1.6" stroke-linejoin="round"/><rect x="77.28" y="328.49" width="7.6" height="7.6" fill="#8e7f3b"/><rect x="89.04" y="362.14" width="7.6" height="7.6" fill="#8e7f3b"/><rect x="100.8" y="378.82" width="7.6" height="7.6" fill="#8e7f3b"/><rect x="112.56" y="384.62" width="7.6" height="7.6" fill="#8e7f3b"/><rect x="159.6" y="384.62" width="7.6" height="7.6" fill="#8e7f3b"/><rect x="171.36" y="462.2" width="7.6" height="7.6" fill="#8e7f3b"/>
<path d="M45.8,317.1 L81.08,318.59 L92.84,333.48 L104.6,354.62 L116.36,360.13 L128.12,366.09 L151.64,369.51 L163.4,371.9 L175.16,375.17 L186.92,378.15 L198.68,382.76 L210.44,385.59 L222.2,389.91 L245.72,389.91 L257.48,466" fill="none" stroke="#2e2e2e" stroke-width="1.6" stroke-linejoin="round"/><circle cx="81.08" cy="318.59" r="3.8" fill="#2e2e2e"/><circle cx="92.84" cy="333.48" r="3.8" fill="#2e2e2e"/><circle cx="104.6" cy="354.62" r="3.8" fill="#2e2e2e"/><circle cx="116.36" cy="360.13" r="3.8" fill="#2e2e2e"/><circle cx="128.12" cy="366.09" r="3.8" fill="#2e2e2e"/><circle cx="151.64" cy="369.51" r="3.8" fill="#2e2e2e"/><circle cx="163.4" cy="371.9" r="3.8" fill="#2e2e2e"/><circle cx="175.16" cy="375.17" r="3.8" fill="#2e2e2e"/><circle cx="186.92" cy="378.15" r="3.8" fill="#2e2e2e"/><circle cx="198.68" cy="382.76" r="3.8" fill="#2e2e2e"/><circle cx="210.44" cy="385.59" r="3.8" fill="#2e2e2e"/><circle cx="222.2" cy="389.91" r="3.8" fill="#2e2e2e"/><circle cx="245.72" cy="389.91" r="3.8" fill="#2e2e2e"/><circle cx="257.48" cy="466" r="3.8" fill="#2e2e2e"/>
<text transform="translate(166.6,404.7) scale(1.05,1)" font-size="10.5" text-anchor="start" font-weight="bold" fill="#111">*P&lt;0.0001</text>
<text transform="translate(187.6,425.3) scale(1.05,1)" font-size="10.5" text-anchor="start" font-weight="bold" fill="#111">*P&lt;0.0001</text>
<text transform="translate(176.4,446.7) scale(1.05,1)" font-size="10.5" text-anchor="start" font-weight="bold" fill="#111">*P&lt;0.0001</text>
<line x1="3.1" y1="518.2" x2="19.7" y2="518.2" stroke="#2e2e2e" stroke-width="1.8"/>
<circle cx="11.4" cy="518.2" r="3.61" fill="#2e2e2e"/>
<text transform="translate(28.5,522.1) scale(1.07,1)" font-size="11" text-anchor="start" font-weight="bold" fill="#111">2% Erythritol</text>
<line x1="109.3" y1="518.2" x2="125.9" y2="518.2" stroke="#a0702c" stroke-width="1.8"/>
<rect x="113.8" y="514.4" width="7.6" height="7.6" fill="#8e7f3b"/>
<text transform="translate(135,522.1) scale(1.05,1)" font-size="11" text-anchor="start" font-weight="bold" fill="#111">5% Erythritol</text>
<line x1="215.5" y1="518.2" x2="232.1" y2="518.2" stroke="#a80a0a" stroke-width="1.8"/>
<polygon points="223.8,514.6 227.8,521.8 219.8,521.8" fill="#a80a0a"/>
<text transform="translate(241.4,522.1) scale(1.04,1)" font-size="11" text-anchor="start" font-weight="bold" fill="#111">10 % Erythritol</text>
<line x1="78.1" y1="537.5" x2="94.7" y2="537.5" stroke="#0d6a10" stroke-width="1.8"/>
<polygon points="82.4,533.9 90.4,533.9 86.4,541.1" fill="#16c416"/>
<text transform="translate(103.5,541.4) scale(1.04,1)" font-size="11" text-anchor="start" font-weight="bold" fill="#111">Sucrose : Erythritol (1:1)</text>
</g>
<g>
<text transform="translate(359.9,287.8) scale(1.05,1)" font-size="11.8" text-anchor="start" font-weight="bold" fill="#111">d</text>
<text transform="translate(523.5,297.7) scale(1.05,1)" font-size="11" text-anchor="middle" font-weight="bold" fill="#111">Females</text>
<text transform="translate(372.5,390.9) rotate(-90) scale(1.02,1)" font-size="11.4" text-anchor="middle" font-weight="bold" fill="#111">Percentage survival</text>
<line x1="407.9" y1="317" x2="407.9" y2="465.8" stroke="#1a1a1a" stroke-width="1.8" stroke-linecap="square"/>
<line x1="401.7" y1="465.8" x2="638.5" y2="465.8" stroke="#1a1a1a" stroke-width="1.8" stroke-linecap="square"/>
<line x1="401.7" y1="465.8" x2="407.9" y2="465.8" stroke="#1a1a1a" stroke-width="1.8"/>
<text transform="translate(399.4,469.5) scale(1.11,1)" font-size="10.3" text-anchor="end" font-weight="bold" fill="#111">0</text>
<line x1="401.7" y1="428.6" x2="407.9" y2="428.6" stroke="#1a1a1a" stroke-width="1.8"/>
<text transform="translate(399.4,432.3) scale(1.11,1)" font-size="10.3" text-anchor="end" font-weight="bold" fill="#111">25</text>
<line x1="401.7" y1="391.4" x2="407.9" y2="391.4" stroke="#1a1a1a" stroke-width="1.8"/>
<text transform="translate(399.4,395.1) scale(1.11,1)" font-size="10.3" text-anchor="end" font-weight="bold" fill="#111">50</text>
<line x1="401.7" y1="354.2" x2="407.9" y2="354.2" stroke="#1a1a1a" stroke-width="1.8"/>
<text transform="translate(399.4,357.9) scale(1.11,1)" font-size="10.3" text-anchor="end" font-weight="bold" fill="#111">75</text>
<line x1="401.7" y1="317" x2="407.9" y2="317" stroke="#1a1a1a" stroke-width="1.8"/>
<text transform="translate(399.4,320.7) scale(1.11,1)" font-size="10.3" text-anchor="end" font-weight="bold" fill="#111">100</text>
<line x1="407.9" y1="465.8" x2="407.9" y2="472.1" stroke="#1a1a1a" stroke-width="1.8"/>
<text transform="translate(407.9,484.5) scale(1.11,1)" font-size="10.3" text-anchor="middle" font-weight="bold" fill="#111">0</text>
<line x1="465.55" y1="465.8" x2="465.55" y2="472.1" stroke="#1a1a1a" stroke-width="1.8"/>
<text transform="translate(465.55,484.5) scale(1.11,1)" font-size="10.3" text-anchor="middle" font-weight="bold" fill="#111">5</text>
<line x1="523.2" y1="465.8" x2="523.2" y2="472.1" stroke="#1a1a1a" stroke-width="1.8"/>
<text transform="translate(523.2,484.5) scale(1.11,1)" font-size="10.3" text-anchor="middle" font-weight="bold" fill="#111">10</text>
<line x1="580.85" y1="465.8" x2="580.85" y2="472.1" stroke="#1a1a1a" stroke-width="1.8"/>
<text transform="translate(580.85,484.5) scale(1.11,1)" font-size="10.3" text-anchor="middle" font-weight="bold" fill="#111">15</text>
<line x1="638.5" y1="465.8" x2="638.5" y2="472.1" stroke="#1a1a1a" stroke-width="1.8"/>
<text transform="translate(638.5,484.5) scale(1.11,1)" font-size="10.3" text-anchor="middle" font-weight="bold" fill="#111">20</text>
<text transform="translate(523.2,502.3) scale(0.99,1)" font-size="11.2" text-anchor="middle" font-weight="bold" fill="#111">Days</text>
<line x1="483.6" y1="423.3" x2="516.6" y2="423.3" stroke="#ec1414" stroke-width="1.55"/>
<line x1="486.2" y1="445.9" x2="531.7" y2="445.9" stroke="#ec1414" stroke-width="1.55"/>
<path d="M407.9,317 L442.49,318.79 L465.55,328.76 L477.08,337.98 L488.61,353.01 L500.14,380.39 L511.67,389.02 L523.2,389.02 L534.73,465.8" fill="none" stroke="#0d6a10" stroke-width="1.6" stroke-linejoin="round"/><polygon points="438.49,315.19 446.49,315.19 442.49,322.39" fill="#16c416"/><polygon points="461.55,325.16 469.55,325.16 465.55,332.36" fill="#16c416"/><polygon points="473.08,334.38 481.08,334.38 477.08,341.58" fill="#16c416"/><polygon points="484.61,349.41 492.61,349.41 488.61,356.61" fill="#16c416"/><polygon points="496.14,376.79 504.14,376.79 500.14,383.99" fill="#16c416"/><polygon points="507.67,385.42 515.67,385.42 511.67,392.62" fill="#16c416"/><polygon points="519.2,385.42 527.2,385.42 523.2,392.62" fill="#16c416"/><polygon points="530.73,462.2 538.73,462.2 534.73,469.4" fill="#16c416"/>
<path d="M407.9,317 L442.49,318.79 L454.02,326.67 L465.55,369.97 L477.08,369.97 L488.61,465.8" fill="none" stroke="#a80a0a" stroke-width="1.6" stroke-linejoin="round"/><polygon points="442.49,315.19 446.49,322.39 438.49,322.39" fill="#a80a0a"/><polygon points="454.02,323.07 458.02,330.27 450.02,330.27" fill="#a80a0a"/><polygon points="465.55,366.37 469.55,373.57 461.55,373.57" fill="#a80a0a"/><polygon points="477.08,366.37 481.08,373.57 473.08,373.57" fill="#a80a0a"/><polygon points="488.61,462.2 492.61,469.4 484.61,469.4" fill="#a80a0a"/>
<path d="M407.9,317 L442.49,318.79 L465.55,319.68 L477.08,343.78 L488.61,370.57 L500.14,389.47 L511.67,389.47 L523.2,465.8" fill="none" stroke="#a0702c" stroke-width="1.6" stroke-linejoin="round"/><rect x="438.69" y="314.99" width="7.6" height="7.6" fill="#8e7f3b"/><rect x="461.75" y="315.88" width="7.6" height="7.6" fill="#8e7f3b"/><rect x="473.28" y="339.98" width="7.6" height="7.6" fill="#8e7f3b"/><rect x="484.81" y="366.77" width="7.6" height="7.6" fill="#8e7f3b"/><rect x="496.34" y="385.67" width="7.6" height="7.6" fill="#8e7f3b"/><rect x="507.87" y="385.67" width="7.6" height="7.6" fill="#8e7f3b"/><rect x="519.4" y="462" width="7.6" height="7.6" fill="#8e7f3b"/>
<path d="M407.9,317 L442.49,318.79 L477.08,327.27 L488.61,342.74 L500.14,384.26 L511.67,389.02 L523.2,389.02 L534.73,465.8" fill="none" stroke="#2e2e2e" stroke-width="1.6" stroke-linejoin="round"/><circle cx="442.49" cy="318.79" r="3.8" fill="#2e2e2e"/><circle cx="477.08" cy="327.27" r="3.8" fill="#2e2e2e"/><circle cx="488.61" cy="342.74" r="3.8" fill="#2e2e2e"/><circle cx="500.14" cy="384.26" r="3.8" fill="#2e2e2e"/><circle cx="511.67" cy="389.02" r="3.8" fill="#2e2e2e"/><circle cx="523.2" cy="389.02" r="3.8" fill="#2e2e2e"/><circle cx="534.73" cy="465.8" r="3.8" fill="#2e2e2e"/>
<text transform="translate(429.7,428.4) scale(1.01,1)" font-size="10.5" text-anchor="start" font-weight="bold" fill="#111">*P&lt;0.0001</text>
<text transform="translate(432.5,450.4) scale(1.01,1)" font-size="10.5" text-anchor="start" font-weight="bold" fill="#111">*P&lt;0.0001</text>
<line x1="366" y1="518.2" x2="382.6" y2="518.2" stroke="#2e2e2e" stroke-width="1.8"/>
<circle cx="374.3" cy="518.2" r="3.61" fill="#2e2e2e"/>
<text transform="translate(391.1,522.1) scale(1.04,1)" font-size="11" text-anchor="start" font-weight="bold" fill="#111">2% Erythritol</text>
<line x1="477" y1="518.2" x2="493.6" y2="518.2" stroke="#a0702c" stroke-width="1.8"/>
<rect x="481.5" y="514.4" width="7.6" height="7.6" fill="#8e7f3b"/>
<text transform="translate(502.7,522.1) scale(1.03,1)" font-size="11" text-anchor="start" font-weight="bold" fill="#111">5% Erythritol</text>
<line x1="581" y1="518.2" x2="597.6" y2="518.2" stroke="#a80a0a" stroke-width="1.8"/>
<polygon points="589.3,514.6 593.3,521.8 585.3,521.8" fill="#a80a0a"/>
<text transform="translate(606.9,522.1) scale(1.03,1)" font-size="11" text-anchor="start" font-weight="bold" fill="#111">10 % Erythritol</text>
<line x1="457.9" y1="537.5" x2="474.5" y2="537.5" stroke="#0d6a10" stroke-width="1.8"/>
<polygon points="462.2,533.9 470.2,533.9 466.2,541.1" fill="#16c416"/>
<text transform="translate(483.4,541.4) scale(1.02,1)" font-size="11" text-anchor="start" font-weight="bold" fill="#111">Sucrose : Erythritol (1:1)</text>
</g>
</svg></body></html>
